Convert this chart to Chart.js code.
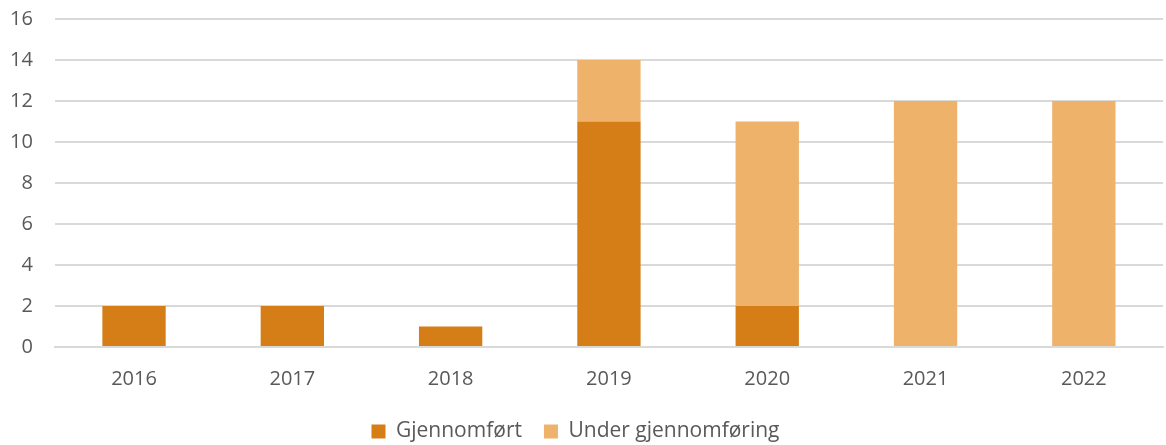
<!DOCTYPE html>
<html><head><meta charset="utf-8">
<script src="https://cdn.jsdelivr.net/npm/chart.js@4/dist/chart.umd.min.js"></script>
<style>html,body{margin:0;padding:0;background:#fff;overflow:hidden}#wrap{width:1166px;height:467px;margin-top:-15px}</style>
</head><body><div id="wrap"><canvas id="c"></canvas></div>
<script>
const categories = ['2016','2017','2018','2019','2020','2021','2022'];
const gjennomfort = [2,2,1,11,2,0,0];
const underGjennomforing = [0,0,0,3,9,12,12];
const yTicks = [0,2,4,6,8,10,12,14,16];

Chart.defaults.font.family = '"Open Sans", "Noto Sans", sans-serif';
Chart.defaults.font.size = 20;
Chart.defaults.color = '#595959';

new Chart(document.getElementById('c'), {
  type: 'bar',
  data: {
    labels: categories,
    datasets: [
      {label: 'Gjennomført', data: gjennomfort, backgroundColor: '#D57D16', barPercentage: 0.4, categoryPercentage: 1},
      {label: 'Under gjennomføring', data: underGjennomforing, backgroundColor: '#EEB26A', barPercentage: 0.4, categoryPercentage: 1}
    ]
  },
  options: {
    responsive: true, maintainAspectRatio: false, animation: false,
    layout: {padding: {top: 0, right: 3, left: -12, bottom: 0}},
    plugins: {
      legend: {position: 'bottom', labels: {boxWidth: 14, boxHeight: 14, padding: 22, font: {size: 21}}},
      tooltip: {enabled: false}
    },
    scales: {
      x: {stacked: true, grid: {display: false}, border: {display: true, color: '#D9D9D9', width: 2},
          ticks: {padding: 12, font: {size: 20}},
          afterFit: s => { s.height -= 4; }},
      y: {stacked: true, min: 0, max: 16, afterBuildTicks: a => { a.ticks = yTicks.map(v => ({value: v})); },
          grid: {color: '#D9D9D9', lineWidth: 2, drawTicks: false}, border: {display: false},
          ticks: {padding: 22, font: {size: 20}}}
    }
  }
});
</script></body></html>
